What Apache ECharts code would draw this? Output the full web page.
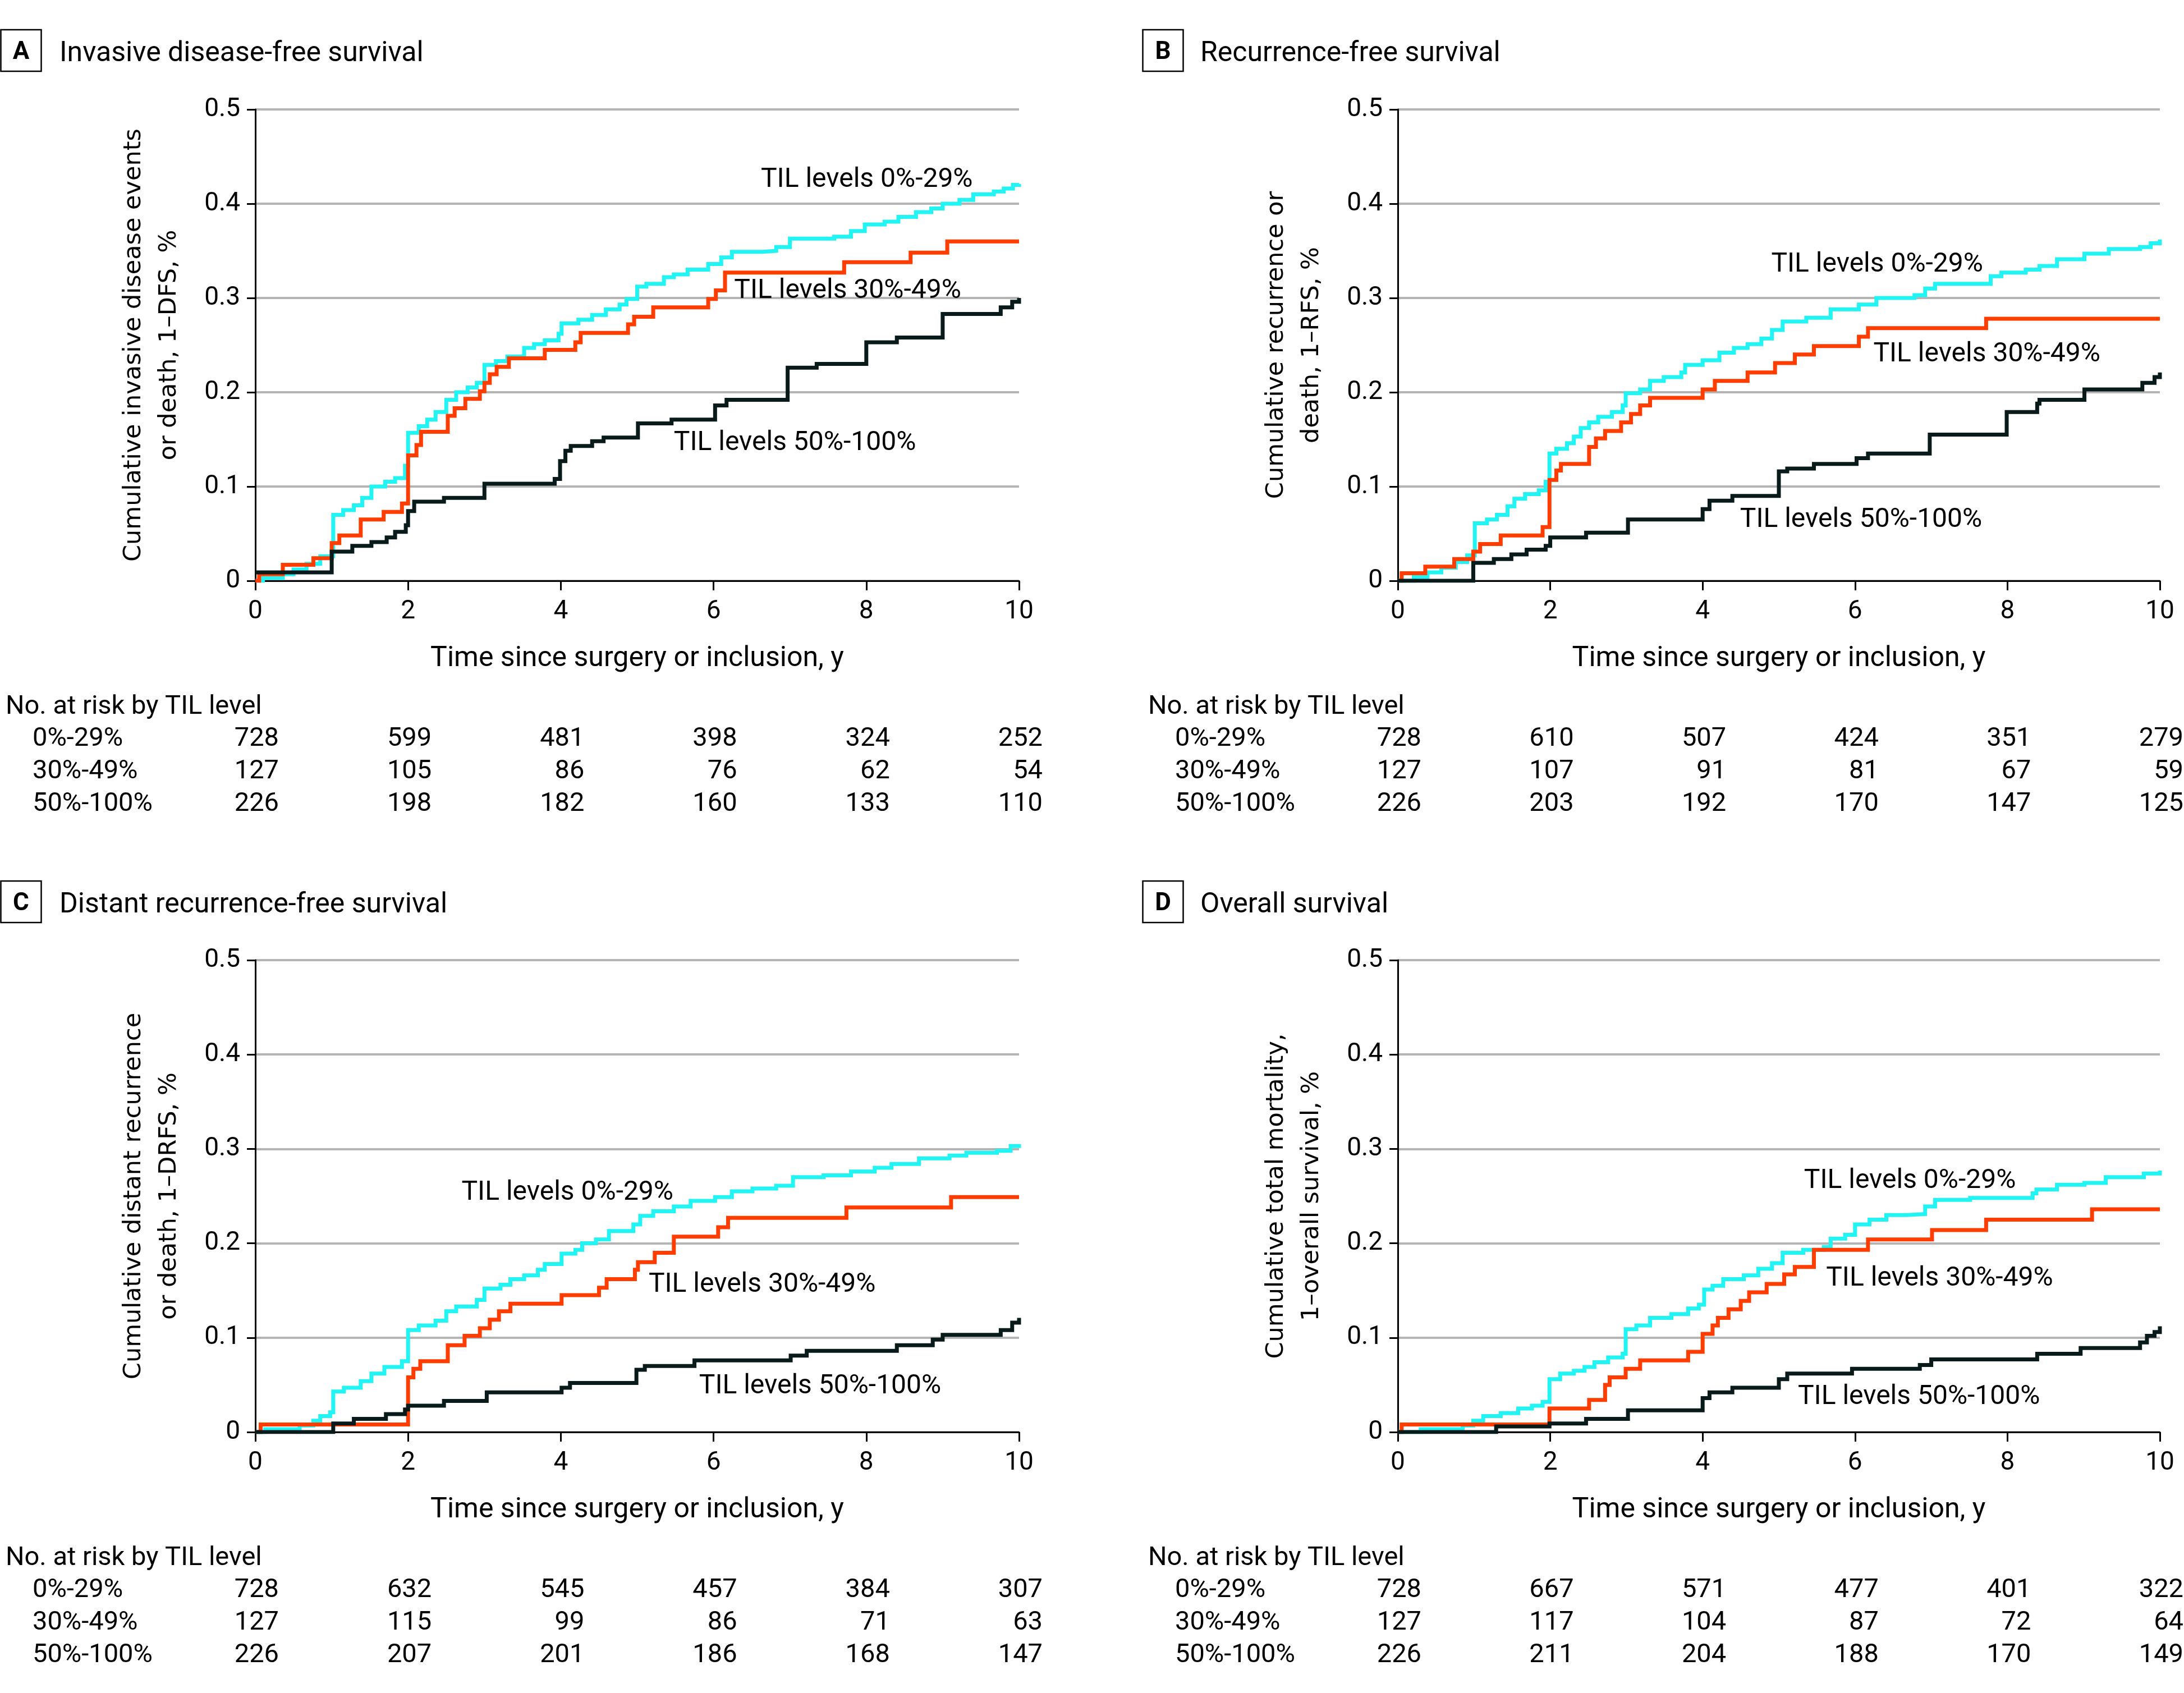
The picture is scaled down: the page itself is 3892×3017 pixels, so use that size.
<!DOCTYPE html>
<html><head><meta charset="utf-8">
<script src="https://cdn.jsdelivr.net/npm/echarts@6/dist/echarts.min.js"></script>
<style>html,body{margin:0;padding:0;background:#fff}#c{width:3892px;height:3017px}</style>
</head><body><div id="c"></div>
<script>
// ---------- DATA ----------
const xTicks = [0, 2, 4, 6, 8, 10];
const groups = ['0%-29%', '30%-49%', '50%-100%'];
const curveLabels = ['TIL levels 0%-29%', 'TIL levels 30%-49%', 'TIL levels 50%-100%'];

// A: Invasive disease-free survival (1-DFS)
const idfsLow = [[0,0],[0.1,0.003],[0.36,0.007],[0.5,0.012],[0.67,0.018],[0.85,0.026],[1.02,0.07],[1.15,0.075],[1.29,0.08],[1.4,0.088],[1.52,0.1],[1.7,0.105],[1.83,0.109],[1.96,0.122],[2.0,0.157],[2.14,0.164],[2.25,0.171],[2.36,0.179],[2.5,0.192],[2.63,0.2],[2.78,0.205],[2.9,0.21],[3.0,0.229],[3.15,0.233],[3.3,0.238],[3.52,0.247],[3.65,0.251],[3.79,0.255],[3.97,0.262],[4.01,0.273],[4.23,0.277],[4.41,0.282],[4.59,0.288],[4.77,0.293],[4.86,0.299],[5.0,0.312],[5.12,0.315],[5.35,0.322],[5.48,0.325],[5.66,0.33],[5.93,0.336],[6.1,0.343],[6.24,0.349],[6.64,0.35],[6.82,0.354],[7.0,0.363],[7.58,0.365],[7.8,0.371],[7.98,0.378],[8.24,0.381],[8.42,0.386],[8.65,0.391],[8.85,0.395],[9.0,0.4],[9.22,0.404],[9.4,0.41],[9.67,0.413],[9.8,0.416],[9.92,0.42],[10,0.421]];
const idfsMid = [[0,0],[0.05,0.007],[0.36,0.017],[0.76,0.024],[1.0,0.04],[1.1,0.048],[1.38,0.065],[1.68,0.073],[1.92,0.082],[2.0,0.133],[2.11,0.144],[2.17,0.158],[2.52,0.175],[2.61,0.183],[2.75,0.193],[2.94,0.201],[3.0,0.21],[3.07,0.219],[3.16,0.227],[3.32,0.236],[3.79,0.245],[4.19,0.253],[4.26,0.263],[4.88,0.272],[4.96,0.28],[5.21,0.29],[5.93,0.299],[6.03,0.308],[6.15,0.327],[7.71,0.338],[8.58,0.348],[9.06,0.36],[10,0.36]];
const idfsHigh = [[0,0.009],[1.0,0.031],[1.27,0.037],[1.52,0.041],[1.72,0.046],[1.83,0.052],[1.97,0.059],[2.0,0.074],[2.08,0.084],[2.47,0.088],[3.0,0.103],[3.92,0.108],[3.99,0.127],[4.06,0.138],[4.13,0.143],[4.41,0.148],[4.56,0.152],[5.01,0.167],[5.45,0.171],[6.02,0.186],[6.17,0.192],[6.97,0.226],[7.35,0.23],[8.0,0.253],[8.4,0.258],[9.0,0.283],[9.76,0.29],[9.91,0.296],[10,0.3]];
const idfsRiskLow = [728, 599, 481, 398, 324, 252];
const idfsRiskMid = [127, 105, 86, 76, 62, 54];
const idfsRiskHigh = [226, 198, 182, 160, 133, 110];

// B: Recurrence-free survival (1-RFS)
const rfsLow = [[0,0],[0.21,0.004],[0.39,0.009],[0.57,0.014],[0.76,0.02],[0.91,0.027],[1.01,0.061],[1.17,0.065],[1.3,0.07],[1.44,0.079],[1.53,0.087],[1.67,0.092],[1.85,0.096],[1.94,0.105],[1.99,0.135],[2.08,0.14],[2.22,0.146],[2.31,0.153],[2.4,0.162],[2.51,0.168],[2.63,0.174],[2.81,0.179],[2.95,0.186],[2.99,0.199],[3.18,0.203],[3.31,0.212],[3.49,0.216],[3.72,0.221],[3.77,0.229],[4.0,0.234],[4.22,0.242],[4.41,0.247],[4.59,0.251],[4.77,0.257],[4.91,0.266],[5.05,0.275],[5.36,0.279],[5.68,0.288],[6.05,0.293],[6.28,0.3],[6.78,0.303],[6.92,0.31],[7.05,0.315],[7.78,0.323],[7.92,0.327],[8.24,0.33],[8.42,0.334],[8.65,0.341],[9.01,0.347],[9.33,0.352],[9.74,0.354],[9.88,0.358],[10,0.362]];
const rfsMid = [[0,0],[0.05,0.008],[0.36,0.015],[0.74,0.023],[0.99,0.031],[1.08,0.039],[1.35,0.048],[1.9,0.057],[1.99,0.107],[2.08,0.117],[2.14,0.124],[2.51,0.142],[2.6,0.151],[2.72,0.159],[2.93,0.168],[3.06,0.177],[3.18,0.186],[3.31,0.194],[4.0,0.203],[4.16,0.212],[4.59,0.221],[4.95,0.231],[5.21,0.24],[5.46,0.249],[6.05,0.259],[6.17,0.268],[7.72,0.278],[10,0.278]];
const rfsHigh = [[0,0],[0.99,0.019],[1.26,0.023],[1.49,0.028],[1.69,0.033],[1.94,0.037],[2.0,0.046],[2.47,0.051],[3.02,0.065],[4.0,0.076],[4.09,0.085],[4.39,0.09],[5.0,0.116],[5.11,0.119],[5.46,0.124],[6.02,0.13],[6.17,0.135],[6.98,0.155],[7.99,0.179],[8.39,0.188],[8.42,0.192],[9.01,0.203],[9.77,0.21],[9.93,0.216],[10,0.221]];
const rfsRiskLow = [728, 610, 507, 424, 351, 279];
const rfsRiskMid = [127, 107, 91, 81, 67, 59];
const rfsRiskHigh = [226, 203, 192, 170, 147, 125];

// C: Distant recurrence-free survival (1-DRFS)
const drfsLow = [[0,0],[0.13,0.003],[0.58,0.007],[0.76,0.012],[0.85,0.017],[0.98,0.021],[1.02,0.043],[1.16,0.047],[1.38,0.054],[1.52,0.062],[1.69,0.069],[1.92,0.075],[2.0,0.108],[2.14,0.113],[2.36,0.118],[2.5,0.128],[2.63,0.133],[2.9,0.14],[3.0,0.152],[3.21,0.156],[3.34,0.162],[3.52,0.166],[3.7,0.172],[3.79,0.178],[4.01,0.189],[4.19,0.193],[4.28,0.2],[4.46,0.204],[4.63,0.213],[4.95,0.22],[5.04,0.229],[5.21,0.234],[5.48,0.239],[5.7,0.245],[6.02,0.249],[6.24,0.255],[6.51,0.258],[6.82,0.261],[7.04,0.27],[7.44,0.272],[7.8,0.276],[8.11,0.28],[8.33,0.284],[8.69,0.29],[9.09,0.293],[9.31,0.296],[9.71,0.298],[9.89,0.303],[10,0.305]];
const drfsMid = [[0,0],[0.07,0.008],[2.0,0.058],[2.07,0.067],[2.16,0.075],[2.52,0.092],[2.74,0.102],[2.94,0.11],[3.07,0.119],[3.19,0.128],[3.34,0.136],[4.01,0.145],[4.5,0.153],[4.6,0.162],[4.97,0.172],[5.01,0.18],[5.23,0.19],[5.48,0.207],[6.06,0.217],[6.19,0.227],[7.74,0.238],[9.11,0.249],[10,0.249]];
const drfsHigh = [[0,0],[1.02,0.009],[1.29,0.014],[1.71,0.019],[1.96,0.024],[2.0,0.028],[2.47,0.033],[3.03,0.042],[4.01,0.047],[4.12,0.052],[4.99,0.066],[5.1,0.07],[5.75,0.076],[7.01,0.081],[7.22,0.086],[8.4,0.092],[8.87,0.098],[9.0,0.103],[9.76,0.108],[9.91,0.116],[10,0.121]];
const drfsRiskLow = [728, 632, 545, 457, 384, 307];
const drfsRiskMid = [127, 115, 99, 86, 71, 63];
const drfsRiskHigh = [226, 207, 201, 186, 168, 147];

// D: Overall survival (1-OS)
const osLow = [[0,0],[0.3,0.003],[0.85,0.007],[0.99,0.012],[1.12,0.017],[1.35,0.02],[1.58,0.025],[1.76,0.028],[1.9,0.032],[1.99,0.056],[2.13,0.062],[2.31,0.065],[2.45,0.069],[2.58,0.074],[2.76,0.079],[2.95,0.083],[2.99,0.109],[3.13,0.113],[3.31,0.121],[3.59,0.125],[3.81,0.131],[3.95,0.135],[4.02,0.151],[4.13,0.155],[4.27,0.162],[4.54,0.166],[4.73,0.173],[4.91,0.179],[5.05,0.19],[5.32,0.193],[5.59,0.196],[5.68,0.205],[5.87,0.209],[6.0,0.22],[6.19,0.225],[6.41,0.23],[6.68,0.231],[6.92,0.239],[7.05,0.246],[7.51,0.248],[8.33,0.253],[8.38,0.257],[8.65,0.262],[9.01,0.264],[9.29,0.27],[9.79,0.274],[10,0.277]];
const osMid = [[0,0],[0.05,0.008],[1.99,0.025],[2.51,0.034],[2.72,0.05],[2.78,0.058],[2.99,0.067],[3.18,0.076],[3.81,0.085],[4.0,0.104],[4.13,0.113],[4.2,0.121],[4.34,0.13],[4.5,0.139],[4.61,0.148],[4.84,0.157],[5.07,0.167],[5.21,0.175],[5.46,0.193],[6.17,0.204],[7.01,0.214],[7.72,0.225],[9.11,0.236],[10,0.236]];
const osHigh = [[0,0],[1.29,0.006],[1.99,0.009],[2.47,0.014],[3.02,0.023],[4.0,0.036],[4.09,0.042],[4.39,0.047],[5.0,0.056],[5.11,0.062],[5.96,0.067],[6.85,0.071],[7.0,0.077],[8.39,0.083],[8.96,0.089],[9.74,0.095],[9.83,0.102],[9.93,0.106],[10,0.112]];
const osRiskLow = [728, 667, 571, 477, 401, 322];
const osRiskMid = [127, 117, 104, 87, 72, 64];
const osRiskHigh = [226, 211, 204, 188, 170, 149];

// ---------- LAYOUT / STYLE ----------
const FONT = 'Roboto, "Liberation Sans", sans-serif';
const YFONT = '"DejaVu Sans", Verdana, sans-serif';
const COLORS = ['#22f4f4', '#ff3d00', '#081a1a'];
const TEXT_DY = 5;

const panels = [
  {letter:'A', title:'Invasive disease-free survival', yName:'Cumulative invasive disease events\nor death, 1–DFS, %',
   grid:{left:455, top:195, width:1361, height:840}, boxX:0, boxY:53, titleX:106, tableX:10,
   series:[idfsLow, idfsMid, idfsHigh], risk:[idfsRiskLow, idfsRiskMid, idfsRiskHigh],
   labelAt:[[6.62,0.428],[6.27,0.310],[5.48,0.149]]},
  {letter:'B', title:'Recurrence-free survival', yName:'Cumulative recurrence or\ndeath, 1–RFS, %',
   grid:{left:2491, top:195, width:1358, height:840}, boxX:2035, boxY:53, titleX:2139, tableX:2046,
   series:[rfsLow, rfsMid, rfsHigh], risk:[rfsRiskLow, rfsRiskMid, rfsRiskHigh],
   labelAt:[[4.90,0.338],[6.24,0.243],[4.49,0.067]]},
  {letter:'C', title:'Distant recurrence-free survival', yName:'Cumulative distant recurrence\nor death, 1–DRFS, %',
   grid:{left:455, top:1711, width:1361, height:841}, boxX:0, boxY:1570, titleX:106, tableX:10,
   series:[drfsLow, drfsMid, drfsHigh], risk:[drfsRiskLow, drfsRiskMid, drfsRiskHigh],
   labelAt:[[2.70,0.256],[5.15,0.159],[5.81,0.051]]},
  {letter:'D', title:'Overall survival', yName:'Cumulative total mortality,\n1–overall survival, %',
   grid:{left:2491, top:1711, width:1358, height:841}, boxX:2035, boxY:1570, titleX:2139, tableX:2046,
   series:[osLow, osMid, osHigh], risk:[osRiskLow, osRiskMid, osRiskHigh],
   labelAt:[[5.33,0.269],[5.62,0.165],[5.25,0.040]]}
];

const chart = echarts.init(document.getElementById('c'), null, {renderer:'canvas', width:3892, height:3017});

const option = {
  animation: false,
  backgroundColor: '#ffffff',
  grid: panels.map(p => Object.assign({containLabel:false, outerBoundsMode:'none'}, p.grid)),
  xAxis: panels.map((p, i) => ({
    gridIndex: i, type: 'value', min: 0, max: 10, interval: 2,
    axisLine: {show: true, onZero: false, lineStyle: {color: '#000', width: 3}},
    axisTick: {show: true, length: 17, lineStyle: {color: '#000', width: 3}},
    axisLabel: {show: true, fontSize: 46, fontFamily: FONT, color: '#000', margin: 55, verticalAlign: 'middle',
                showMinLabel: true, showMaxLabel: true, hideOverlap: false},
    splitLine: {show: false},
    name: 'Time since surgery or inclusion, y', nameLocation: 'middle', nameGap: 139, nameMoveOverlap: false,
    nameTextStyle: {fontSize: 50, fontFamily: FONT, color: '#000', verticalAlign: 'middle'}
  })),
  yAxis: panels.map((p, i) => ({
    gridIndex: i, type: 'value', min: 0, max: 0.5, interval: 0.1,
    axisLine: {show: true, lineStyle: {color: '#000', width: 3}},
    axisTick: {show: true, length: 15, lineStyle: {color: '#000', width: 3}},
    axisLabel: {show: true, fontSize: 46, fontFamily: FONT, color: '#000', margin: 27, padding: [8, 0, 0, 0],
                showMinLabel: true, showMaxLabel: true, hideOverlap: false},
    splitLine: {show: true, lineStyle: {color: '#b4b4b4', width: 4}},
    name: p.yName, nameLocation: 'middle', nameRotate: 90, nameGap: 185, nameMoveOverlap: false,
    nameTextStyle: {fontSize: 43, fontFamily: YFONT, color: '#000', lineHeight: 63, align: 'center', verticalAlign: 'middle'}
  })),
  series: []
};
panels.forEach((p, i) => {
  p.series.forEach((d, k) => {
    option.series.push({
      type: 'line', xAxisIndex: i, yAxisIndex: i, data: d, step: 'end',
      showSymbol: false, symbol: 'none', silent: true,
      lineStyle: {color: COLORS[k], width: 7, join: 'miter', cap: 'butt'},
      itemStyle: {color: COLORS[k]}, z: 2 + k
    });
  });
});
chart.setOption(option);

// text overlays (titles, curve labels, at-risk tables)
const graphic = [];
panels.forEach((p, i) => {
  graphic.push({type:'rect', shape:{x:p.boxX + 1.5, y:p.boxY, width:72, height:74},
                style:{fill:'none', stroke:'#000', lineWidth:2.5}});
  graphic.push({type:'text', x:p.boxX + 37.5, y:p.boxY + 38 + TEXT_DY - 2,
                style:{text:p.letter, fontSize:44, fontWeight:'bold', fontFamily:FONT, fill:'#000', align:'center', verticalAlign:'middle'}});
  graphic.push({type:'text', x:p.titleX, y:p.boxY + 38 + TEXT_DY,
                style:{text:p.title, fontSize:50, fontFamily:FONT, fill:'#000', align:'left', verticalAlign:'middle'}});
  p.labelAt.forEach((pt, k) => {
    const px = chart.convertToPixel({gridIndex:i}, pt);
    graphic.push({type:'text', x:px[0], y:px[1] + TEXT_DY,
                  style:{text:curveLabels[k], fontSize:48, fontFamily:FONT, fill:'#000', align:'left', verticalAlign:'middle'}});
  });
  const axisY = p.grid.top + p.grid.height;
  graphic.push({type:'text', x:p.tableX, y:axisY + 220 + TEXT_DY,
                style:{text:'No. at risk by TIL level', fontSize:47, fontFamily:FONT, fill:'#000', align:'left', verticalAlign:'middle'}});
  p.risk.forEach((row, r) => {
    const y = axisY + 277 + r * 58 + TEXT_DY;
    graphic.push({type:'text', x:p.tableX + 48, y:y,
                  style:{text:groups[r], fontSize:47, fontFamily:FONT, fill:'#000', align:'left', verticalAlign:'middle'}});
    row.forEach((n, c) => {
      const x = chart.convertToPixel({xAxisIndex:i}, xTicks[c]);
      graphic.push({type:'text', x:x + 42, y:y,
                    style:{text:String(n), fontSize:47, fontFamily:FONT, fill:'#000', align:'right', verticalAlign:'middle'}});
    });
  });
});
chart.setOption({graphic: graphic});
</script>
</body></html>
